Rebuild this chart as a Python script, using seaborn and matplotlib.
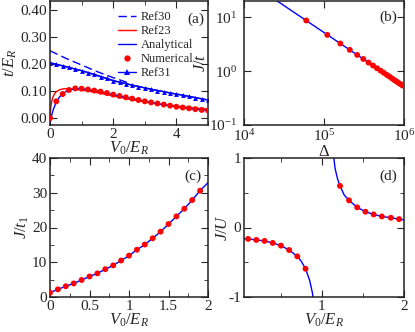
import matplotlib
matplotlib.use("Agg")
import matplotlib.pyplot as plt
from matplotlib.ticker import MultipleLocator, FormatStrFormatter, LogLocator, NullLocator
from matplotlib.lines import Line2D
import seaborn as sns

# ---- panel (a): t/E_R vs V0/E_R
a_ref30_x = [0.0, 0.5, 1.0, 1.5, 2.0, 2.5]
a_ref30_y = [0.250, 0.222, 0.197, 0.172, 0.150, 0.130]
a_anal_x = [0.0, 0.5, 1.0, 1.5, 2.0, 2.5, 3.0, 3.5, 4.0, 4.5, 5.0]
a_anal_y = [0.205, 0.191, 0.176, 0.158, 0.139, 0.125, 0.112, 0.100, 0.089, 0.078, 0.067]
a_ref31_x = [0.0, 0.2, 0.4, 0.6, 0.8, 1.0, 1.2, 1.4, 1.6, 1.8, 2.0, 2.2, 2.4, 2.6, 2.8,
             3.0, 3.2, 3.4, 3.6, 3.8, 4.0, 4.2, 4.4, 4.6, 4.8, 5.0]
a_ref31_y = [0.205, 0.200, 0.194, 0.188, 0.182, 0.176, 0.169, 0.162, 0.154, 0.147, 0.139,
             0.133, 0.128, 0.122, 0.117, 0.112, 0.107, 0.102, 0.098, 0.093, 0.089,
             0.085, 0.080, 0.076, 0.071, 0.067]
a_ref23_x = [0.0, 0.03, 0.06, 0.1, 0.15, 0.2, 0.3, 0.4, 0.5, 0.7, 1.0, 1.5, 2.0, 2.5,
             3.0, 3.5, 4.0, 4.5, 5.0]
a_ref23_y = [0.0, 0.045, 0.065, 0.080, 0.091, 0.098, 0.105, 0.108, 0.109, 0.108, 0.104,
             0.094, 0.082, 0.070, 0.060, 0.051, 0.044, 0.038, 0.033]
a_low_x = [0.0, 0.05, 0.1, 0.2, 0.3, 0.4, 0.5, 0.6, 0.8, 1.0, 1.5, 2.0, 2.5, 3.0,
           3.5, 4.0, 4.5, 5.0]
a_low_y = [-0.020, 0.008, 0.030, 0.060, 0.078, 0.090, 0.098, 0.104, 0.109, 0.109,
           0.100, 0.087, 0.074, 0.062, 0.051, 0.042, 0.034, 0.028]
a_num_x = [0.0, 0.2, 0.4, 0.6, 0.8, 1.0, 1.2, 1.4, 1.6, 1.8, 2.0, 2.2, 2.4, 2.6, 2.8,
           3.0, 3.2, 3.4, 3.6, 3.8, 4.0, 4.2, 4.4, 4.6, 4.8, 5.0]
a_num_y = [0.000, 0.062, 0.089, 0.104, 0.110, 0.109, 0.106, 0.102, 0.098, 0.093, 0.087,
           0.082, 0.077, 0.072, 0.067, 0.062, 0.058, 0.054, 0.050, 0.046, 0.042,
           0.039, 0.036, 0.033, 0.030, 0.028]

# ---- panel (b): J/t vs Delta (log-log)
b_line_x = [2.0e4, 5.0e4, 1.0e5, 2.0e5, 5.0e5, 1.0e6]
b_line_y = [26.0, 10.4, 5.2, 2.6, 1.04, 0.52]
b_dot_x = [6.0e4, 1.1e5, 1.6e5, 2.1e5, 2.6e5, 3.1e5, 3.6e5, 4.1e5, 4.6e5, 5.1e5,
           5.6e5, 6.1e5, 6.6e5, 7.1e5, 7.6e5, 8.1e5, 8.6e5, 9.1e5, 9.6e5]
b_dot_y = [8.7, 4.7, 3.25, 2.48, 2.0, 1.68, 1.44, 1.27, 1.13, 1.02,
           0.93, 0.85, 0.79, 0.73, 0.68, 0.64, 0.60, 0.57, 0.54]

# ---- panel (c): J/t1 vs V0/E_R
c_x = [0.0, 0.1, 0.2, 0.3, 0.4, 0.5, 0.6, 0.7, 0.8, 0.9, 1.0, 1.1, 1.2, 1.3, 1.4,
       1.5, 1.6, 1.7, 1.8, 1.9]
c_y = [1.25, 2.2, 3.1, 3.9, 4.9, 5.9, 6.8, 8.0, 9.1, 10.5, 11.9, 13.6, 15.1, 16.9,
       18.8, 21.0, 23.2, 25.4, 27.9, 30.6]
c_line_x = c_x + [2.0]
c_line_y = c_y + [32.9]

# ---- panel (d): J/U vs V0/E_R
d_left_x = [0.05, 0.1, 0.2, 0.3, 0.4, 0.5, 0.6, 0.7, 0.75, 0.8, 0.85, 0.88, 0.9]
d_left_y = [-0.160, -0.164, -0.179, -0.193, -0.222, -0.261, -0.324, -0.415, -0.49,
            -0.594, -0.76, -0.92, -1.05]
d_right_x = [1.14, 1.16, 1.19, 1.22, 1.27, 1.33, 1.43, 1.53, 1.63, 1.73, 1.84, 1.94, 2.0]
d_right_y = [1.05, 0.85, 0.70, 0.60, 0.47, 0.39, 0.29, 0.227, 0.188, 0.159, 0.140,
             0.121, 0.110]
d_dot_x = [0.1, 0.2, 0.3, 0.4, 0.5, 0.6, 0.7, 0.8,
           1.22, 1.33, 1.43, 1.53, 1.63, 1.73, 1.84, 1.94]
d_dot_y = [-0.164, -0.179, -0.193, -0.222, -0.261, -0.324, -0.415, -0.594,
           0.599, 0.391, 0.290, 0.227, 0.188, 0.159, 0.140, 0.121]

sns.set_style("ticks")
plt.rcParams["font.family"] = ["Liberation Serif", "DejaVu Serif"]
plt.rcParams["mathtext.fontset"] = "custom"
plt.rcParams["mathtext.rm"] = "Liberation Serif"
plt.rcParams["mathtext.it"] = "Liberation Serif:italic"
plt.rcParams["font.size"] = 11
plt.rcParams["xtick.direction"] = "in"
plt.rcParams["ytick.direction"] = "in"
plt.rcParams["xtick.top"] = True
plt.rcParams["ytick.right"] = True
plt.rcParams["xtick.major.size"] = 5
plt.rcParams["ytick.major.size"] = 5
plt.rcParams["xtick.minor.size"] = 3
plt.rcParams["ytick.minor.size"] = 3
plt.rcParams["axes.linewidth"] = 1.1
plt.rcParams["axes.edgecolor"] = "#222222"

blue = "#0000ff"
red = "#ff0000"

fig = plt.figure(figsize=(4.15, 3.32), dpi=100)
W, H = 415, 332
def box(l, t, r, b):
    return [l / W, 1 - b / H, (r - l) / W, (b - t) / H]

ax_a = fig.add_axes(box(50, 1, 208, 125))
ax_b = fig.add_axes(box(244, 1, 404, 125))
ax_c = fig.add_axes(box(50, 158, 208, 297))
ax_d = fig.add_axes(box(244, 158, 404, 297))
for ax in (ax_c, ax_d):
    ax.set_facecolor("none")

# (a)
sns.lineplot(x=a_ref30_x, y=a_ref30_y, ax=ax_a, color=blue, lw=1.0,
             linestyle=(0, (6, 3)))
sns.lineplot(x=a_ref23_x, y=a_ref23_y, ax=ax_a, color=red, lw=1.0)
sns.lineplot(x=a_anal_x, y=a_anal_y, ax=ax_a, color=blue, lw=1.0)
sns.lineplot(x=a_low_x, y=a_low_y, ax=ax_a, color=blue, lw=1.0)
sns.lineplot(x=a_ref31_x, y=a_ref31_y, ax=ax_a, color=blue, lw=1.0, marker="^",
             markersize=3.5, markeredgewidth=0)
sns.scatterplot(x=a_num_x, y=a_num_y, ax=ax_a, color=red, s=18, edgecolor="none", zorder=5)
ax_a.set_xlim(0, 5)
ax_a.set_ylim(-0.026, 0.435)
ax_a.xaxis.set_major_locator(MultipleLocator(2))
ax_a.xaxis.set_minor_locator(MultipleLocator(1))
ax_a.yaxis.set_major_locator(MultipleLocator(0.1))
ax_a.yaxis.set_major_formatter(FormatStrFormatter("%.2f"))
ax_a.set_xlabel(r"$V_0/E_R$", fontsize=12, labelpad=-1)
ax_a.set_ylabel(r"$t/E_R$", fontsize=12, labelpad=1)
handles = [
    Line2D([], [], color=blue, lw=1.0, linestyle=(0, (6, 3))),
    Line2D([], [], color=red, lw=1.0),
    Line2D([], [], color=blue, lw=1.0),
    Line2D([], [], color=red, lw=0, marker="o", markersize=4.5, markeredgewidth=0),
    Line2D([], [], color=blue, lw=1.0, marker="^", markersize=4, markeredgewidth=0,
           markevery=[0]),
]
ax_a.legend(handles, ["Ref30", "Ref23", "Analytical", "Numerical", "Ref31"],
            loc="upper left", bbox_to_anchor=(0.37, 1.0), frameon=False,
            fontsize=9, handlelength=1.4, handletextpad=0.4, labelspacing=0.16,
            borderpad=0.3)
ax_a.text(0.975, 0.82, "(a)", transform=ax_a.transAxes, ha="right", fontsize=11)

# (b)
sns.lineplot(x=b_line_x, y=b_line_y, ax=ax_b, color=blue, lw=1.0)
sns.scatterplot(x=b_dot_x, y=b_dot_y, ax=ax_b, color=red, s=18, edgecolor="none", zorder=5)
ax_b.set_xscale("log")
ax_b.set_yscale("log")
ax_b.set_xlim(1e4, 1e6)
ax_b.set_ylim(0.1, 20)
ax_b.xaxis.set_major_locator(LogLocator(base=10, numticks=5))
ax_b.yaxis.set_major_locator(LogLocator(base=10, numticks=5))
ax_b.xaxis.set_minor_locator(NullLocator())
ax_b.yaxis.set_minor_locator(NullLocator())
ax_b.set_xlabel(r"$\Delta$", fontsize=12, labelpad=0)
ax_b.set_ylabel(r"$J/t$", fontsize=12, labelpad=0)
ax_b.text(0.96, 0.84, "(b)", transform=ax_b.transAxes, ha="right", fontsize=11)

# (c)
sns.lineplot(x=c_line_x, y=c_line_y, ax=ax_c, color=blue, lw=1.0)
sns.scatterplot(x=c_x, y=c_y, ax=ax_c, color=red, s=18, edgecolor="none", zorder=5)
ax_c.set_xlim(0, 2)
ax_c.set_ylim(0, 40)
ax_c.xaxis.set_major_locator(MultipleLocator(0.5))
ax_c.xaxis.set_minor_locator(MultipleLocator(0.25))
ax_c.yaxis.set_major_locator(MultipleLocator(10))
ax_c.yaxis.set_minor_locator(MultipleLocator(5))
ax_c.xaxis.set_major_formatter(FormatStrFormatter("%g"))
ax_c.set_xlabel(r"$V_0/E_R$", fontsize=12, labelpad=-1)
ax_c.set_ylabel(r"$J/t_1$", fontsize=12, labelpad=1)
ax_c.text(0.96, 0.84, "(c)", transform=ax_c.transAxes, ha="right", fontsize=11)

# (d)
sns.lineplot(x=d_left_x, y=d_left_y, ax=ax_d, color=blue, lw=1.0, sort=False)
sns.lineplot(x=d_right_x, y=d_right_y, ax=ax_d, color=blue, lw=1.0, sort=False)
sns.scatterplot(x=d_dot_x, y=d_dot_y, ax=ax_d, color=red, s=18, edgecolor="none", zorder=5)
ax_d.set_xlim(0.05, 2)
ax_d.set_ylim(-1, 1)
ax_d.xaxis.set_major_locator(MultipleLocator(1))
ax_d.xaxis.set_minor_locator(MultipleLocator(0.5))
ax_d.yaxis.set_major_locator(MultipleLocator(1))
ax_d.yaxis.set_minor_locator(MultipleLocator(0.5))
ax_d.xaxis.set_major_formatter(FormatStrFormatter("%g"))
ax_d.yaxis.set_major_formatter(FormatStrFormatter("%g"))
ax_d.set_xlabel(r"$V_0/E_R$", fontsize=12, labelpad=-1)
ax_d.set_ylabel(r"$J/U$", fontsize=12, labelpad=-2)
ax_d.text(0.96, 0.84, "(d)", transform=ax_d.transAxes, ha="right", fontsize=11)

for ax in (ax_a, ax_b, ax_c, ax_d):
    ax.tick_params(which="both", labelsize=11)
ax_a.tick_params(which="both", pad=2)
ax_c.tick_params(which="both", pad=2)
ax_d.tick_params(which="both", pad=2)
ax_b.tick_params(axis="y", pad=5)
ax_b.tick_params(axis="x", pad=2)

plt.savefig("out.png", dpi=100)
